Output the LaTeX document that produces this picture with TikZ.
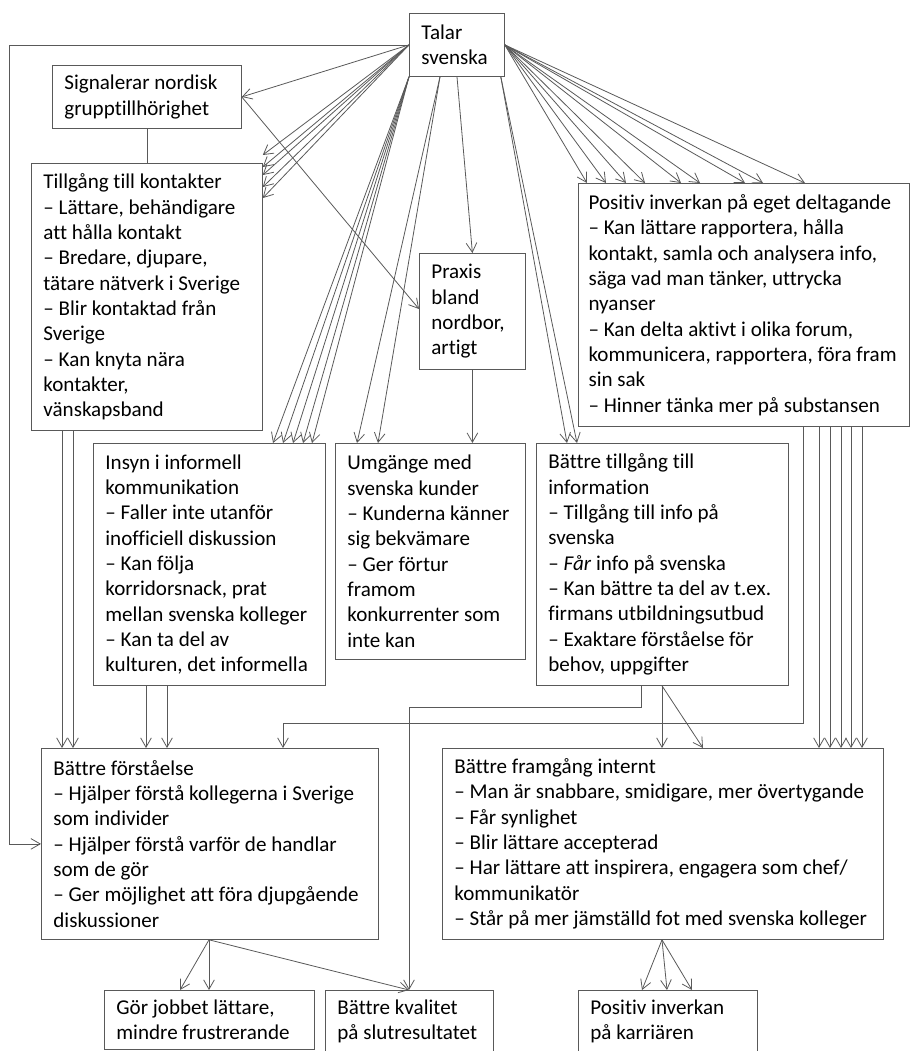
\documentclass[tikz,border=0pt]{standalone}
\usepackage{fontspec}
\setmainfont{Carlito}[Ligatures=NoCommon]
\usetikzlibrary{arrows.meta,calc}
\hyphenpenalty=10000

\begin{document}
\begin{tikzpicture}[x=0.75pt, y=-0.75pt,
  box/.style={draw=black!65, line width=0.6pt, anchor=north west, align=flush left,
    inner xsep=9pt, inner ysep=7pt, font=\fontsize{15.8}{19}\selectfont},
  arrow/.style={draw=black!65, line width=0.6pt, -{Straight Barb[length=7pt,width=8pt]}},
  link/.style={draw=black!65, line width=0.6pt}
]
\useasboundingbox (0,0) rectangle (911,1051);

  % Boxes
  \node[box, text width=53.25pt, minimum height=47.25pt] (talar) at (409,13) {Talar\\svenska};
  \node[box, text width=123.75pt, minimum height=47.25pt] (signal) at (52,65) {Signalerar nordisk\\grupptillhörighet};
  \node[box, text width=155.25pt, minimum height=200.25pt] (kontakt) at (31,163)
    {Tillgång till kontakter\\– Lättare, behändigare\\att hålla kontakt\\– Bredare, djupare,\\tätare nätverk i Sverige\\– Blir kontaktad från\\Sverige\\– Kan knyta nära\\kontakter,\\vänskapsband};
  \node[box, text width=61.5pt, minimum height=87pt] (praxis) at (419,253) {Praxis\\bland\\nordbor,\\artigt};
  \node[box, inner xsep=7.6pt, text width=233pt, minimum height=182.25pt] (posdel) at (578,183)
    {Positiv inverkan på eget deltagande\\– Kan lättare rapportera, hålla\\kontakt, samla och analysera info,\\säga vad man tänker, uttrycka\\nyanser\\– Kan delta aktivt i olika forum,\\kommunicera, rapportera, föra fram\\sin sak\\– Hinner tänka mer på substansen};
  \node[box, text width=156pt, minimum height=181.5pt] (insyn) at (93,443)
    {Insyn i informell\\kommunikation\\– Faller inte utanför\\inofficiell diskussion\\– Kan följa\\korridorsnack, prat\\mellan svenska kolleger\\– Kan ta del av\\kulturen, det informella};
  \node[box, text width=124.5pt, minimum height=162pt] (umgang) at (335,443)
    {Umgänge med\\svenska kunder\\– Kunderna känner\\sig bekvämare\\– Ger förtur\\framom\\konkurrenter som\\inte kan};
  \node[box, text width=171pt, minimum height=181.5pt] (battinfo) at (536,443)
    {Bättre tillgång till\\information\\– Tillgång till info på\\svenska\\– \textit{Får} info på svenska\\– Kan bättre ta del av t.ex.\\firmans utbildningsutbud\\– Exaktare förståelse för\\behov, uppgifter};
  \node[box, text width=234.75pt, minimum height=143.25pt] (forst) at (41,748)
    {Bättre förståelse\\– Hjälper förstå kollegerna i Sverige\\som individer\\– Hjälper förstå varför de handlar\\som de gör\\– Ger möjlighet att föra djupgående\\diskussioner};
  \node[box, text width=312.75pt, minimum height=143.25pt] (framg) at (442,748)
    {Bättre framgång internt\\– Man är snabbare, smidigare, mer övertygande\\– Får synlighet\\– Blir lättare accepterad\\– Har lättare att inspirera, engagera som chef/\\kommunikatör\\– Står på mer jämställd fot med svenska kolleger};
  \node[box, text width=139.5pt] (jobb) at (104,990) {Gör jobbet lättare,\\mindre frustrerande};
  \node[box, text width=108pt] (kval) at (325,990) {Bättre kvalitet\\på slutresultatet};
  \node[box, text width=116.25pt] (karriar) at (578,990) {Positiv inverkan\\på karriären};

  % From Talar svenska
  \draw[arrow] (talar.west) -- ++(-400,0) |- (forst.west);
  \draw[arrow] (talar.west) -- (signal.east);
  \foreach \dy in {-8,4,12,24,35}
    \draw[arrow] (talar.west) -- ($(kontakt.north east)+(0,\dy)$);
  \foreach \dx in {180,190,200,210,219}
    \draw[arrow] (talar.south west) -- ($(insyn.north west)+(\dx,0)$);
  \foreach \dx in {22,43}
    \draw[arrow] ($(talar.south west)+(31,0)$) -- ($(umgang.north west)+(\dx,0)$);
  \draw[arrow] ($(talar.south west)+(48,0)$) -- (praxis.north);
  \foreach \dx in {31,41}
    \draw[arrow] ($(talar.south east)+(-4,0)$) -- ($(battinfo.north west)+(\dx,0)$);
  \foreach \dx in {9,28,48,67,103,122,167,185,227}
    \draw[arrow] (talar.east) -- ($(posdel.north west)+(\dx,0)$);

  % Signalerar and Praxis
  \draw[link] (signal.south) -- (kontakt.north);
  \draw[arrow] (signal.east) -- ($(praxis.north west)+(0,56)$);
  \draw[arrow] (praxis.south) -- (praxis.south |- umgang.north);

  % Into Bättre förståelse
  \foreach \dx in {31,42}
    \draw[arrow] ($(kontakt.south west)+(\dx,0)$) coordinate (s) -- (s |- forst.north);
  \foreach \dx in {53,74}
    \draw[arrow] ($(insyn.south west)+(\dx,0)$) coordinate (s) -- (s |- forst.north);
  \draw[arrow] ($(posdel.south west)+(225,0)$) -- ++(0,297) -| ($(forst.north west)+(242,0)$);

  % Into Bättre framgång and Bättre kvalitet
  \draw[arrow] ($(battinfo.south west)+(105,0)$) -- ++(0,22) -| ($(kval.north west)+(84,0)$);
  \draw[arrow] ($(battinfo.south west)+(126,0)$) coordinate (s) -- (s |- framg.north);
  \draw[arrow] ($(battinfo.south west)+(126,0)$) -- ($(framg.north west)+(261,0)$);
  \foreach \dx in {241,252,263,273,284}
    \draw[arrow] ($(posdel.south west)+(\dx,0)$) coordinate (s) -- (s |- framg.north);

  % Bottom row
  \foreach \dx in {76,105}
    \draw[arrow] ($(forst.south west)+(168,0)$) -- ($(jobb.north west)+(\dx,0)$);
  \draw[arrow] ($(forst.south west)+(168,0)$) -- ($(kval.north west)+(84,0)$);
  \foreach \dx in {64,89,114}
    \draw[arrow] ($(framg.south west)+(220,0)$) -- ($(karriar.north west)+(\dx,0)$);

\end{tikzpicture}
\end{document}
